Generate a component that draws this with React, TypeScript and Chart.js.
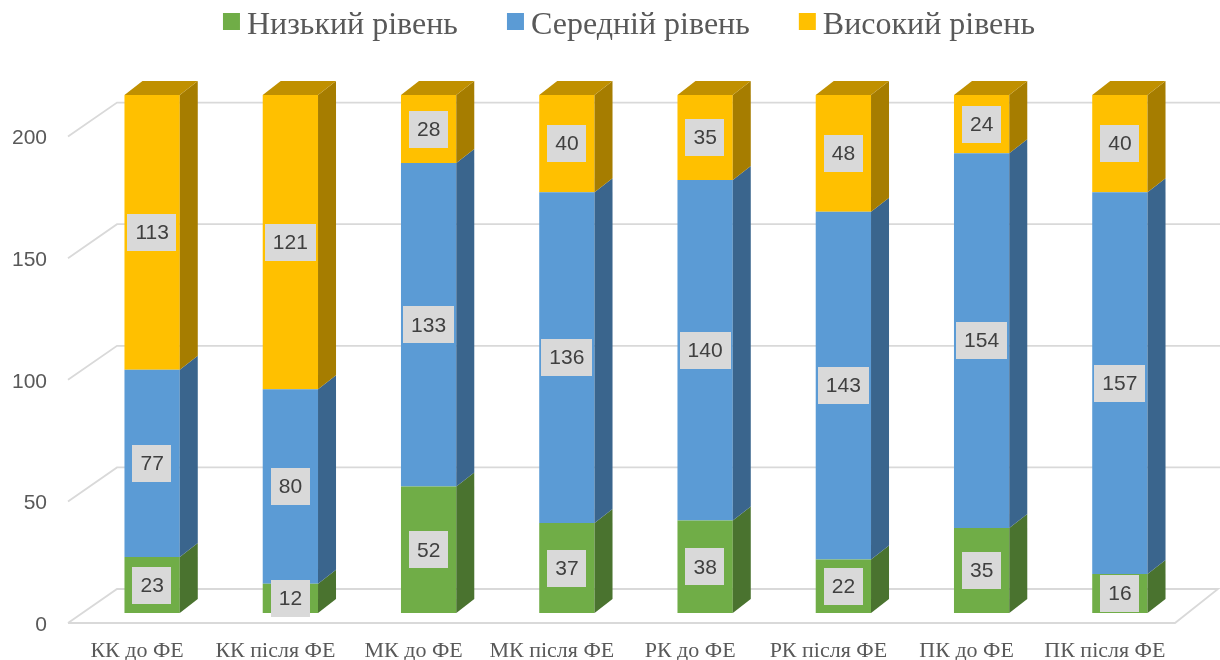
import React, { useEffect, useRef } from 'react';
import { Chart, registerables } from 'chart.js';

Chart.register(...registerables);

const categories = ['КК до ФЕ', 'КК після ФЕ', 'МК до ФЕ', 'МК після ФЕ', 'РК до ФЕ', 'РК після ФЕ', 'ПК до ФЕ', 'ПК після ФЕ'];
const seriesNames = ['Низький рівень', 'Середній рівень', 'Високий рівень'];
const lowValues = [23, 12, 52, 37, 38, 22, 35, 16];
const midValues = [77, 80, 133, 136, 140, 143, 154, 157];
const highValues = [113, 121, 28, 40, 35, 48, 24, 40];
const yTickValues = [0, 50, 100, 150, 200];

const frontColors = ['#70AD47', '#5B9BD5', '#FFC000'];
const sideColors = ['#4A732F', '#3A658D', '#A67D00'];
const topColors = ['#5A8A39', '#4A7FB0', '#C09000'];

const W = 1220;
const H = 660;
const DX = 18;
const DY = -14;

const perspectivePlugin = {
  id: 'perspective3d',
  beforeDatasetsDraw(chart: any) {
    const { ctx, chartArea, scales } = chart;
    const y = scales.y;
    const x = scales.x;
    const lf = chartArea.left - 15;
    const lb = chartArea.left + 34;
    const rf = chartArea.right - 14;
    const rb = chartArea.right + 29;
    ctx.save();
    ctx.strokeStyle = '#D9D9D9';
    ctx.lineWidth = 1.8;
    yTickValues.forEach((v) => {
      const yb = y.getPixelForValue(v);
      ctx.beginPath();
      ctx.moveTo(lf, yb + 10);
      ctx.lineTo(lb, yb - 24);
      ctx.lineTo(v === 0 ? rb : W, yb - 24);
      if (v === 0) {
        ctx.lineTo(rf, yb + 10);
        ctx.lineTo(lf, yb + 10);
      }
      ctx.stroke();
    });
    // y tick labels on the front plane
    ctx.fillStyle = '#595959';
    ctx.font = '21px "Liberation Sans", Arial, sans-serif';
    ctx.textAlign = 'right';
    ctx.textBaseline = 'middle';
    yTickValues.forEach((v) => {
      const yb = y.getPixelForValue(v);
      ctx.fillText(String(v), 47, yb + 12);
    });
    // category labels on the front plane
    ctx.font = '22px "Liberation Serif", "Times New Roman", serif';
    ctx.textAlign = 'center';
    ctx.textBaseline = 'alphabetic';
    categories.forEach((c, i) => {
      ctx.fillText(c, x.getPixelForValue(i) - 15, 657);
    });
    ctx.restore();
  },
  afterDatasetsDraw(chart: any) {
    const { ctx } = chart;
    const n = chart.data.datasets.length;
    ctx.save();
    for (let d = 0; d < n; d++) {
      const meta = chart.getDatasetMeta(d);
      meta.data.forEach((el: any) => {
        const props = el.getProps(['x', 'y', 'base', 'width'], true);
        const x1 = props.x + props.width / 2;
        const x0 = props.x - props.width / 2;
        const top = Math.min(props.y, props.base);
        const bot = Math.max(props.y, props.base);
        ctx.fillStyle = sideColors[d];
        ctx.beginPath();
        ctx.moveTo(x1, top);
        ctx.lineTo(x1 + DX, top + DY);
        ctx.lineTo(x1 + DX, bot + DY);
        ctx.lineTo(x1, bot);
        ctx.closePath();
        ctx.fill();
        if (d === n - 1) {
          ctx.fillStyle = topColors[d];
          ctx.beginPath();
          ctx.moveTo(x0, top);
          ctx.lineTo(x0 + DX, top + DY);
          ctx.lineTo(x1 + DX, top + DY);
          ctx.lineTo(x1, top);
          ctx.closePath();
          ctx.fill();
        }
      });
    }
    // data labels
    ctx.font = '21px "Liberation Sans", Arial, sans-serif';
    ctx.textAlign = 'center';
    ctx.textBaseline = 'middle';
    for (let d = 0; d < n; d++) {
      const meta = chart.getDatasetMeta(d);
      const data = chart.data.datasets[d].data;
      meta.data.forEach((el: any, j: number) => {
        const props = el.getProps(['x', 'y', 'base'], true);
        const label = String(data[j]);
        const cx = props.x;
        const cy = (props.y + props.base) / 2;
        const tw = ctx.measureText(label).width;
        const bw = tw + 16;
        const bh = 37;
        ctx.fillStyle = '#D9D9D9';
        ctx.fillRect(Math.round(cx - bw / 2), Math.round(cy - bh / 2), Math.round(bw), bh);
        ctx.fillStyle = '#404040';
        ctx.fillText(label, cx, cy + 1);
      });
    }
    ctx.restore();
  },
  afterDraw(chart: any) {
    const { ctx } = chart;
    ctx.save();
    ctx.font = '32px "Liberation Serif", "Times New Roman", serif';
    const box = 17;
    const gapBoxText = 7;
    const gapItems = 49;
    const widths = seriesNames.map((s) => box + gapBoxText + ctx.measureText(s).width);
    const total = widths.reduce((a, b) => a + b, 0) + gapItems * (seriesNames.length - 1);
    let x = 629 - total / 2;
    ctx.textBaseline = 'alphabetic';
    ctx.textAlign = 'left';
    seriesNames.forEach((s, i) => {
      ctx.fillStyle = frontColors[i];
      ctx.fillRect(x, 13, box, box);
      ctx.fillStyle = '#595959';
      ctx.fillText(s, x + box + gapBoxText, 34);
      x += widths[i] + gapItems;
    });
    ctx.restore();
  },
};

export default function App() {
  const canvasRef = useRef<HTMLCanvasElement | null>(null);

  useEffect(() => {
    document.body.style.margin = '0';
    const canvas = canvasRef.current;
    if (!canvas) return;
    const seriesValues = [lowValues, midValues, highValues];
    const chart = new Chart(canvas, {
      type: 'bar',
      data: {
        labels: categories,
        datasets: seriesNames.map((name, i) => ({
          label: name,
          data: seriesValues[i],
          backgroundColor: frontColors[i],
          borderWidth: 0,
          barPercentage: 0.4,
          categoryPercentage: 1,
        })),
      },
      options: {
        responsive: false,
        animation: false,
        devicePixelRatio: 1,
        layout: { padding: { left: 83, right: 31, top: 5, bottom: 47 } },
        plugins: {
          legend: { display: false },
          tooltip: { enabled: false },
        },
        scales: {
          x: {
            stacked: true,
            display: false,
          },
          y: {
            stacked: true,
            display: false,
            min: 0,
            max: 250,
          },
        },
      },
      plugins: [perspectivePlugin],
    });
    return () => chart.destroy();
  }, []);

  return (
    <div style={{ width: W, height: H, background: '#ffffff' }}>
      <canvas ref={canvasRef} width={W} height={H} style={{ display: 'block' }} />
    </div>
  );
}
